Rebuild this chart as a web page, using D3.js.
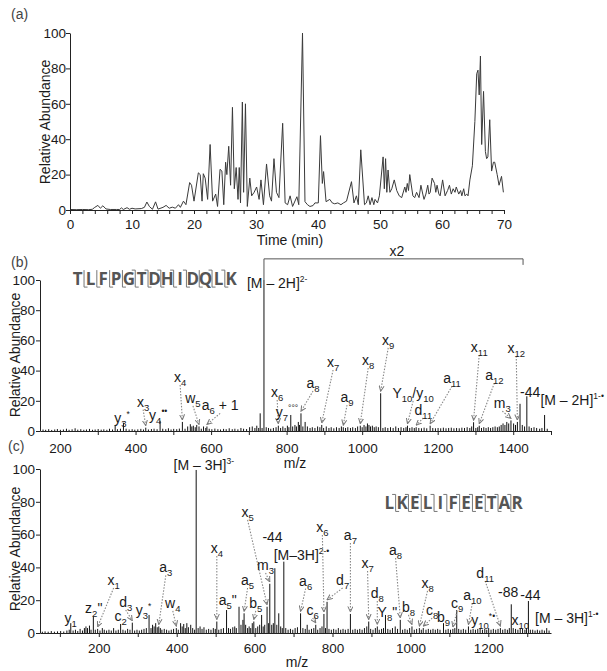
<!DOCTYPE html>
<html><head><meta charset="utf-8">
<script src="https://cdn.jsdelivr.net/npm/d3@7"></script>
<style>
body{margin:0;background:#fff}
text{white-space:pre}
</style></head><body>
<svg id="c" width="607" height="671"></svg>
<script>
// ---------- DATA ----------
const chromA = [[0,0.3],[1,0.2],[2,0.3],[3,0.2],[3.6,0.4],[4,1.5],[4.5,2.6],[4.9,1],[5.3,2.4],[5.8,0.6],[6.5,0.3],[7.5,0.3],[8,0.3],[8.3,1.2],[8.6,0.3],[9.2,1.3],[9.6,0.4],[10,1],[10.5,0.6],[11.5,0.8],[12,1.5],[12.4,4.5],[12.8,2],[13.3,0.4],[13.8,4.6],[14.2,0.5],[15,1.5],[15.5,2.6],[16,1],[16.5,1.6],[17,1],[17.5,3],[17.8,1.5],[18.3,5],[18.7,3],[19.3,15.5],[19.6,14],[20,5],[20.7,21],[21,20],[21.3,5],[21.5,20.5],[21.8,18],[22.2,6],[22.6,37],[23,5],[23.5,9],[23.8,2],[24.2,23],[24.5,22],[24.8,3],[25.1,27],[25.3,20],[25.6,36],[25.9,14],[26.2,58],[26.5,12],[26.8,24],[27.1,6],[27.3,24],[27.5,4],[27.8,61],[28.0,10],[28.3,60],[28.6,2],[29.0,18],[29.3,8],[29.7,10],[30.1,13],[30.5,6],[30.8,17],[31.2,3],[31.7,26],[32.2,8],[32.5,5],[32.9,29],[33.3,10],[33.7,7],[34.3,49],[34.7,4],[35.1,3],[35.5,8],[35.9,2],[36.6,7.5],[36.9,3],[37.5,100],[37.9,4.7],[38.3,3],[38.7,2],[39.2,2.5],[39.5,4],[40.05,4],[40.4,42],[40.7,15],[40.9,21.7],[41.3,4.7],[41.9,6],[42.3,4],[42.7,3.5],[43.2,4],[43.7,3],[44.1,4],[44.6,5],[45.4,16],[45.8,4],[46.2,8],[46.5,3],[46.9,34],[47.5,3],[47.8,4],[48.1,8],[48.4,3],[48.7,7],[49.0,3],[49.2,6],[49.6,4],[49.9,8],[50.5,30],[50.7,12],[50.9,29],[51.1,10],[51.3,22.6],[51.6,10],[51.9,12],[52.3,17],[52.7,11],[53.1,8],[53.5,7],[54.0,13],[54.2,10],[54.4,15],[54.6,11],[54.8,20],[55.3,8],[55.6,7],[55.9,10],[56.3,7],[56.6,14],[56.9,9],[57.1,6],[57.4,9],[57.7,14],[57.9,9],[58.1,10],[58.4,18],[58.8,15],[59.0,10],[59.2,14],[59.5,9],[59.7,8],[60.1,17],[60.5,8],[60.9,11],[61.2,14],[61.5,9],[61.8,12],[62.1,10],[62.3,13],[62.7,9],[63.0,11],[63.2,8],[63.5,12],[63.7,8],[64.0,9],[64.2,8],[64.5,17],[64.9,25],[65.3,50],[65.6,77],[65.8,79],[66.0,65],[66.2,87],[66.4,37],[66.7,67],[67.0,33],[67.2,29],[67.4,30],[67.7,51],[68.0,22],[68.3,27],[68.5,27],[68.9,20],[69.2,14],[69.6,19],[69.9,10]];

const specB = [[155,1],[162,0.8],[170,1.2],[178,0.7],[186,1],[193,1.3],[201,0.8],[209,1],[217,1.5],[224,0.8],[232,1.1],[240,1.8],[247,0.9],[255,1.2],[263,0.8],[270,1],[278,1.4],[286,0.8],[293,1],[301,1.3],[309,0.9],[316,1.1],[324,0.8],[331,1.5],[339,1],[346,4],[352,1.2],[360,1.5],[368,5.5],[375,1.5],[383,1],[391,1.2],[398,0.9],[406,1.1],[414,1.4],[421,1],[427,2.2],[434,1],[442,1.3],[449,1.5],[457,1.2],[465,6.8],[472,1.5],[480,1.2],[487,1.8],[494,1],[501,1.4],[509,1.2],[516,1.6],[524,6],[531,1.5],[538,3],[545,4.5],[549,3],[553,3.5],[558,2.5],[562,4],[568,3],[574,1.5],[580,3],[586,2],[589,3],[595,1.5],[602,1.2],[610,1.6],[618,1.2],[625,1],[633,1.4],[640,1.2],[648,1.8],[656,1.2],[663,1.5],[671,1.1],[679,2],[686,1.5],[694,1.3],[702,2.5],[709,3],[716,2],[721,3.5],[726,2],[730,11.7],[735,2],[740,100],[746,2.5],[752,2],[758,1.5],[765,2],[772,2.5],[778,3.5],[784,2],[790,3],[796,2],[802,3.5],[806,2.5],[811,10.6],[816,3],[822,4],[826,3],[831,6],[834,4],[838,11.7],[843,3],[849,6],[855,3],[862,2],[868,2.5],[875,2],[882,3],[888,2.5],[893,4],[898,2],[905,3],[912,2],[918,2.5],[925,1.8],[932,2.5],[939,2],[945,3],[950,2.5],[956,2],[962,2.5],[969,2],[975,2.5],[982,2],[988,3],[995,3.5],[1000,2.5],[1005,4],[1010,3],[1014,5],[1018,4],[1022,3],[1027,3.5],[1032,2.5],[1037,3],[1043,2.5],[1049,25],[1055,2],[1061,2.5],[1068,2],[1075,2.5],[1082,2],[1089,3],[1096,2],[1103,2.5],[1110,2],[1116,2.5],[1120,3.5],[1126,2],[1132,2.5],[1138,2],[1143,2.5],[1150,2],[1157,1.8],[1164,2.2],[1171,1.8],[1180,3.5],[1187,2],[1194,1.8],[1201,2],[1208,1.8],[1215,2.2],[1222,1.8],[1229,2],[1236,2.2],[1243,1.8],[1250,2],[1257,1.8],[1264,2.2],[1271,2],[1278,2.5],[1285,2],[1290,3],[1295,5.8],[1301,2],[1306,2.5],[1310,3.5],[1316,2],[1322,2.5],[1328,2],[1334,2.5],[1340,2],[1346,2.5],[1352,3],[1358,2.5],[1363,3],[1368,4],[1373,5],[1378,4],[1383,6],[1388,5],[1394,7],[1401,5],[1406,4],[1411,6],[1418,18],[1424,4],[1430,3],[1436,23],[1442,3],[1448,2],[1455,2.5],[1462,2],[1470,1.5],[1476,2],[1483,10.6],[1490,1.5]];

const specC = [[55,0.8],[62,1],[70,0.8],[78,1.2],[86,0.8],[94,1],[102,1.2],[110,0.9],[118,1.5],[124,2],[128,6],[134,1.5],[140,2],[146,1.2],[152,2.5],[158,1.5],[163,3],[167,4],[171,3],[176,4.5],[180,2],[186,10],[191,2],[197,2.5],[203,1.5],[209,3],[214,2],[220,1.5],[226,2],[232,1.5],[238,3],[244,1.5],[250,2],[256,5.5],[262,2],[268,1.5],[274,2.5],[280,2],[286,6.3],[292,1.5],[298,2],[304,1.5],[310,2],[316,2.5],[322,3],[329,11],[334,3],[338,5],[342,4],[346,6],[350,3.5],[354,4],[358,3],[362,2],[368,2.5],[374,2],[380,1.5],[386,2],[392,2.5],[399,3],[404,2],[410,6],[414,4],[418,5.5],[422,3],[426,6],[430,3.5],[436,5],[441,3],[446,2],[450,99.4],[455,3],[460,4],[465,2.5],[470,3.5],[476,2],[482,2.5],[488,2],[494,3],[499,2.5],[503,7],[508,2],[514,2.5],[520,3],[528,14],[533,3],[538,2.5],[544,3.5],[549,4],[553,3],[560,16],[565,5],[570,8],[573,12],[577,5],[582,3],[586,4],[590,3],[594,6],[598,7],[603,3],[608,4],[613,5],[618,11],[622,4],[626,5],[632,16],[636,6],[639,30],[644,5],[648,6],[652,39.5],[657,5],[662,12],[667,4],[671,3],[675,43.5],[680,3],[686,2],[692,2.5],[698,2],[704,3],[710,3.5],[718,12],[724,3],[730,2.5],[735,5],[740,2],[746,2.5],[752,3],[757,5],[762,2],[768,3],[773,4],[778,11.6],[782,3],[786,19],[791,2.5],[797,2],[803,2.5],[809,2],[815,3],[821,2],[827,2.5],[833,2],[840,2.5],[846,11.6],[852,2],[858,2.5],[864,2],[870,2.5],[876,2],[882,3],[888,4],[893,7],[898,2.5],[904,2],[910,3],[915,4],[920,2],[926,2.5],[931,3],[936,11],[942,2.5],[948,2],[954,3],[961,4],[967,2.5],[974,8],[980,2],[986,2.5],[992,2],[998,3],[1004,4],[1010,2],[1016,2.5],[1023,3],[1028,2],[1033,3],[1040,2],[1046,2.5],[1052,2],[1058,2.5],[1064,2],[1070,2.5],[1076,2],[1085,6],[1091,2],[1097,2.5],[1103,2],[1109,2.5],[1114,3],[1119,14],[1124,2.5],[1130,2],[1136,2.5],[1142,2],[1149,4],[1155,2],[1161,2.5],[1167,2],[1173,2.5],[1179,3],[1185,2],[1191,2.5],[1196,2],[1201,3],[1207,2],[1213,2.5],[1219,2],[1225,2.5],[1231,3],[1237,2],[1243,2.5],[1249,2],[1254,3],[1259,17.5],[1264,3],[1270,2.5],[1276,2],[1282,3],[1288,2.5],[1294,2],[1298,3],[1303,19.5],[1308,2],[1314,2],[1320,1.5],[1326,2],[1332,1.5],[1338,2],[1344,1.5],[1350,3],[1356,1.5]];

const ticksA = [0,10,20,30,40,50,60,70];
const ticksB = [200,400,600,800,1000,1200,1400];
const ticksC = [200,400,600,800,1000,1200];
const ticksY = [0,20,40,60,80,100];

const seqB = ["T","L","F","P","G","T","D","H","I","D","Q","L","K"];
const seqC = ["L","K","E","L","I","F","E","E","T","A","R"];

// annotations: label text, label position (m/z, %), arrow target m/z
const annB = [
 {s:"y_{3}^{*}", x:364, y:8.6},
 {s:"x_{3}", x:420, y:19.5, t:427},
 {s:"y_{4}^{••}", x:460, y:10.6},
 {s:"x_{4}", x:518, y:35.8, t:524},
 {s:"w_{5}", x:552, y:21.9, t:568},
 {s:"a_{6} + 1", x:624, y:17, t:589},
 {s:"x_{6}", x:775, y:25.8, t:778},
 {s:"y_{7}^{°°°}", x:801, y:12.6},
 {s:"a_{8}", x:870, y:31.8, t:838},
 {s:"x_{7}", x:923, y:45.7, t:893},
 {s:"a_{9}", x:960, y:22.5, t:950},
 {s:"x_{8}", x:1016, y:47, t:995},
 {s:"x_{9}", x:1069, y:60.3, t:1049},
 {s:"Y_{10}/y_{10}", x:1135, y:25.2, t:1120},
 {s:"d_{11}", x:1162, y:13.9, t:1143},
 {s:"a_{11}", x:1238, y:35, t:1180},
 {s:"x_{11}", x:1310, y:55.6, t:1295},
 {s:"a_{12}", x:1350, y:37, t:1310},
 {s:"x_{12}", x:1408, y:55, t:1411},
 {s:"m_{3}", x:1371, y:18.5, t:1394},
 {s:"-44", x:1445, y:25.8},
 {s:"[M – 2H]^{1-•}", x:1472, y:20.5, a:"start"},
 {s:"[M – 2H]^{2-}", x:695, y:98, a:"start"}
];
const annC = [
 {s:"[M – 3H]^{3-}", x:392, y:102.4, a:"start"},
 {s:"x_{5}", x:582, y:73.8, t:632},
 {s:"-44", x:646, y:58.5},
 {s:"[M–3H]^{2-•}", x:649, y:47.6, a:"start"},
 {s:"m_{3}", x:628, y:41.5, t:639},
 {s:"x_{4}", x:503, y:51.8, t:503},
 {s:"a_{3}", x:372, y:40, t:354},
 {s:"x_{1}", x:238, y:32.3, t:197},
 {s:"a_{5}", x:582, y:32.3, t:573},
 {s:'z_{2}"', x:187, y:15},
 {s:"d_{3}", x:269, y:18.9, t:286},
 {s:"c_{2}", x:256, y:10.5},
 {s:"y_{1}", x:128, y:9},
 {s:"y_{3}^{*}", x:315, y:14},
 {s:"w_{4}", x:390, y:18.3, t:399},
 {s:'a_{5}"', x:531, y:20},
 {s:"b_{5}", x:603, y:18.3, t:598},
 {s:"a_{6}", x:731, y:32, t:718},
 {s:"c_{6}", x:749, y:14, t:757},
 {s:"x_{6}", x:774, y:64.6, t:778},
 {s:"a_{7}", x:846, y:59.8, t:846},
 {s:"d_{7}", x:826, y:32.3, t:786},
 {s:"x_{7}", x:890, y:42.7, t:893},
 {s:"a_{8}", x:962, y:50.6, t:974},
 {s:"d_{8}", x:915, y:24.4, t:915},
 {s:'Y_{8}"', x:941, y:12.8},
 {s:"b_{8}", x:995, y:15.9, t:1004},
 {s:"x_{8}", x:1044, y:30.5, t:1023},
 {s:"c_{8}", x:1056, y:14, t:1033},
 {s:"b_{9}", x:1085, y:9.8},
 {s:"c_{9}", x:1120, y:18.3, t:1109},
 {s:"a_{10}", x:1159, y:23, t:1149},
 {s:"d_{11}", x:1192, y:36.6, t:1231},
 {s:"-88", x:1251, y:25},
 {s:"-44", x:1308, y:23},
 {s:"y_{10}^{*•}", x:1187, y:8},
 {s:"x_{10}", x:1282, y:8},
 {s:"[M – 3H]^{1-•}", x:1320, y:9.1, a:"start"}
];

// ---------- DRAWING ----------
const FONT = '"Liberation Sans", Arial, Helvetica, sans-serif';
const svg = d3.select("#c").attr("font-family", FONT);
svg.append("rect").attr("width",607).attr("height",671).attr("fill","#fff");

svg.append("defs").append("marker").attr("id","arr")
  .attr("viewBox","0 0 6 6").attr("refX",5.5).attr("refY",3)
  .attr("markerWidth",6).attr("markerHeight",6).attr("markerUnits","userSpaceOnUse")
  .attr("orient","auto")
  .append("path").attr("d","M0,0.5L5.5,3L0,5.5").attr("fill","none").attr("stroke","#777").attr("stroke-width",1);

function rich(g, s, x, y, anchor, size, fill) {
  const t = g.append("text").attr("x", x).attr("y", y)
    .attr("text-anchor", anchor || "middle").attr("font-size", size || 14)
    .attr("fill", fill || "#1a1a1a");
  const re = /([_^])\{([^}]*)\}|([^_^]+)/g;
  let m, cur = 0;
  while ((m = re.exec(s))) {
    let txt, off, fs = null;
    if (m[3] !== undefined) { txt = m[3]; off = 0; }
    else if (m[1] === "_") { txt = m[2]; off = 4; fs = 9.5; }
    else { txt = m[2]; off = -6; fs = 8.5; }
    const sp = t.append("tspan").text(txt).attr("dy", off - cur);
    if (fs) sp.attr("font-size", fs);
    cur = off;
  }
  return t;
}

function yAxis(g, y, x0, pad) {
  const ax = d3.axisLeft(y).tickValues(ticksY).tickSize(4).tickSizeOuter(0).tickPadding(pad);
  const a = g.append("g").attr("transform", `translate(${x0},0)`).call(ax);
  a.selectAll("text").attr("font-size", 13.5).attr("font-family", FONT).attr("fill","#1a1a1a");
  a.selectAll("path,line").attr("stroke","#222");
}
function xAxis(g, x, y0, ticks, labels, pad) {
  const ax = d3.axisBottom(x).tickValues(ticks).tickSize(4).tickSizeOuter(0).tickPadding(pad)
    .tickFormat(d => labels.includes(d) ? d : "");
  const a = g.append("g").attr("transform", `translate(0,${y0})`).call(ax);
  a.selectAll("text").attr("font-size", 13.5).attr("font-family", FONT).attr("fill","#1a1a1a");
  a.selectAll("path,line").attr("stroke","#222");
}
function yTitle(g, cx, cy) {
  g.append("text").attr("transform", `translate(${cx},${cy}) rotate(-90)`)
    .attr("text-anchor","middle").attr("dy","0.35em").attr("font-size",14).attr("fill","#1a1a1a")
    .text("Relative Abundance");
}

// ---- Panel (a)
const gA = svg.append("g");
const xA = d3.scaleLinear().domain([0,70]).range([70,504]);
const yA = d3.scaleLinear().domain([0,100]).range([210,33]);
gA.append("path").datum(chromA)
  .attr("d", d3.line().x(d => xA(d[0])).y(d => yA(d[1])))
  .attr("fill","none").attr("stroke","#3a3a3a").attr("stroke-width",1);
xAxis(gA, xA, 210, d3.range(0,71,2), ticksA, 5);
yAxis(gA, yA, 70, 0);
yTitle(gA, 45, 122);
gA.append("text").attr("x",290).attr("y",245).attr("text-anchor","middle").attr("font-size",14).attr("fill","#1a1a1a").text("Time (min)");
gA.append("text").attr("x",11).attr("y",19).attr("font-size",14).attr("fill","#444").text("(a)");

// ---- spectrum helper
function spectrum(g, data, x, y, ann) {
  g.append("g").selectAll("line").data(data).join("line")
    .attr("x1", d => x(d[0])).attr("x2", d => x(d[0]))
    .attr("y1", y(0)).attr("y2", d => y(d[1]))
    .attr("stroke","#111").attr("stroke-width",1);
  const peakAt = mz => data.reduce((b, d) => Math.abs(d[0]-mz) < Math.abs(b[0]-mz) ? d : b, data[0]);
  ann.forEach(a => {
    if (a.t !== undefined) {
      const p = peakAt(a.t);
      g.append("line")
        .attr("x1", x(a.x)).attr("y1", y(a.y) + 8)
        .attr("x2", x(p[0])).attr("y2", y(p[1]) - 2)
        .attr("stroke","#888").attr("stroke-width",1.1).attr("stroke-dasharray","1.5,1.5")
        .attr("marker-end","url(#arr)");
    }
    rich(g, a.s, x(a.x), y(a.y) + 5, a.a || "middle", 14);
  });
}

function sequence(g, letters, cx, cy, step, marks) {
  const n = letters.length;
  const x0 = cx - (n - 1) * step / 2;
  g.selectAll(null).data(letters).join("text")
    .attr("x", (d, i) => x0 + i * step).attr("y", cy + 6)
    .attr("text-anchor","middle").attr("font-size",17).attr("font-weight","bold")
    .attr("font-family",'"Open Sans", "DejaVu Sans", sans-serif').attr("fill","#555")
    .text(d => d);
  marks.forEach((m, i) => {
    if (m === " ") return;
    const gx = x0 + (i + 0.5) * step;
    let d = `M${gx},${cy-9}V${cy+8}`;
    if (m === "n" || m === "b") d += `M${gx},${cy-9}h-3.5`;
    if (m === "c" || m === "b") d += `M${gx},${cy+8}h3.5`;
    g.append("path").attr("d", d).attr("fill","none").attr("stroke","#777").attr("stroke-width",1);
  });
}

// ---- Panel (b)
const gB = svg.append("g");
const xB = d3.scaleLinear().domain([147,1500]).range([40,551]);
const yB = d3.scaleLinear().domain([0,100]).range([431,280]);
spectrum(gB, specB, xB, yB, annB);
xAxis(gB, xB, 431, d3.range(200,1501,100), ticksB, 8);
yAxis(gB, yB, 40, 1);
yTitle(gB, 15, 355);
gB.append("text").attr("x",295).attr("y",468).attr("text-anchor","middle").attr("font-size",14).attr("fill","#1a1a1a").text("m/z");
gB.append("text").attr("x",11).attr("y",267).attr("font-size",14).attr("fill","#444").text("(b)");
// x2 bracket
gB.append("path")
  .attr("d", `M${xB(740)},${yB(100)}V${yB(114)}H${xB(1426)}V${yB(110)}`)
  .attr("fill","none").attr("stroke","#555").attr("stroke-width",1);
gB.append("text").attr("x", xB(1092)).attr("y", yB(114) - 3).attr("text-anchor","middle")
  .attr("font-size",14).attr("fill","#1a1a1a").text("x2");
sequence(gB, seqB, xB(450), yB(100.6), 12.8, ["c","c","c","c","b","b","b","b","b","c","b","b"]);

// ---- Panel (c)
const gC = svg.append("g");
const xC = d3.scaleLinear().domain([49,1361]).range([40,551]);
const yC = d3.scaleLinear().domain([0,100]).range([633,469]);
spectrum(gC, specC, xC, yC, annC);
xAxis(gC, xC, 633, d3.range(100,1301,100), ticksC, 6);
yAxis(gC, yC, 40, 1);
yTitle(gC, 15, 549);
gC.append("text").attr("x",297).attr("y",667).attr("text-anchor","middle").attr("font-size",14).attr("fill","#1a1a1a").text("m/z");
gC.append("text").attr("x",8).attr("y",451).attr("font-size",14).attr("fill","#444").text("(c)");
sequence(gC, seqC, xC(1110), yC(79), 12.8, ["b","b","b","b","b","b","b","b","b","b"]);
</script></body></html>
